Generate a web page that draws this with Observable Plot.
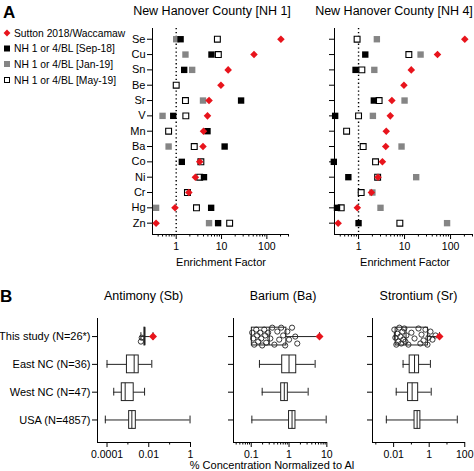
<!DOCTYPE html>
<html><head><meta charset="utf-8">
<script src="https://cdn.jsdelivr.net/npm/d3@7"></script>
<script src="https://cdn.jsdelivr.net/npm/@observablehq/plot@0.6"></script>
<style>
body{margin:0;background:#fff;}
#chart{position:relative;width:474px;height:471px;overflow:hidden;font-family:"Liberation Sans",Arial,sans-serif;}
#chart > svg{position:absolute;}
</style></head><body><div id="chart"></div>
<script>
// ---------- Panel A data (Enrichment Factor) ----------
const elements = ["Se","Cu","Sn","Be","Sr","V","Mn","Ba","Co","Ni","Cr","Hg","Zn"];
const sutton   = [204, 52, 14, 9.7, 5.3, 4.9, 4.0, 3.9, 3.3, 2.65, 1.9, 0.94, 0.36];
const nh1Sep18 = [1.25, 6.0, 1.5, null, 27, 0.86, 4.9, 11.7, 1.33, 4.1, null, 5.9, 8.4];
const nh1Jan19 = [1.0, 1.6, 2.25, null, 3.9, 0.5, null, 0.68, null, null, null, 0.36, 5.3];
const nh1May19 = [8.1, 8.5, null, 1.0, 1.6, 1.63, 0.68, 2.5, 3.5, 3.3, 1.77, 2.8, 15.1];
const nh4Sep18 = [null, 1.4, 0.86, null, 2.15, 0.31, null, null, 0.29, 0.6, null, 0.34, 1.0];
const nh4Jan19 = [2.5, 22.3, 2.2, null, 10, 2.05, null, 8.6, null, 17.9, 2.0, 3.0, 84];
const nh4May19 = [0.93, 12.4, 1.18, null, 2.8, 1.0, 0.55, 1.26, 2.34, 2.6, 1.14, 0.42, 7.9];
const legendLabels = ["Sutton 2018/Waccamaw", "NH 1 or 4/BL [Sep-18]", "NH 1 or 4/BL [Jan-19]", "NH 1 or 4/BL [May-19]"];
const topTicks = [1, 10, 100];
const topMinor = [0.4,0.5,0.6,0.7,0.8,0.9,2,3,4,5,6,7,8,9,20,30,40,50,60,70,80,90,200,300];

// ---------- Panel B data (% concentration normalized to Al) ----------
const groups = ["This study (N=26*)", "East NC (N=36)", "West NC (N=47)", "USA (N=4857)"];
// [low whisker, Q1, median, Q3, high whisker]
const sbBox = [[0.0042, 0.0062, 0.0065, 0.0068, 0.016],[0.0001, 0.0009, 0.002, 0.0033, 0.014],[0.00021, 0.00051, 0.00074, 0.0019, 0.0063],[0.000083, 0.00115, 0.00155, 0.0024, 0.95]];
const baBox = [[0.1, 0.104, 0.3, 0.85, 6.4],[0.165, 0.66, 1.0, 1.55, 4.9],[0.195, 0.62, 0.75, 0.93, 3.2],[0.104, 1.0, 1.2, 1.48, 9.6]];
const srBox = [[0.011, 0.013, 0.05, 0.85, 3.8],[0.034, 0.08, 0.15, 0.27, 1.17],[0.014, 0.065, 0.11, 0.24, 1.3],[0.0039, 0.15, 0.21, 0.32, 38]];
const sbSutton = 0.016, baSutton = 6.4, srSutton = 3.8;
const sbStudy = [0.0042, 0.0046];
const sbJitter = [0.18, 0.04];
const baStudy = [0.106,0.113,0.12,0.136,0.144,0.153,0.173,0.184,0.195,0.221,0.235,0.249,0.28,0.32,0.36,0.41,0.49,0.55,0.62,0.70,0.79,0.90,1.0,1.2,1.46,1.65];
const baJitter = [-0.14,0.07,0.29,-0.25,-0.04,0.18,-0.14,0.07,0.32,-0.25,-0.04,0.22,-0.14,0.07,-0.32,0.29,-0.18,0.11,-0.32,-0.04,0.32,-0.18,0.11,-0.32,0,0.25];
const srStudy = [0.011,0.0125,0.0142,0.0162,0.0184,0.021,0.024,0.027,0.031,0.035,0.040,0.046,0.052,0.068,0.10,0.15,0.25,0.32,0.37,0.48,0.62,0.80,0.91,1.18,1.53,2.27];
const srJitter = [-0.25,0.04,0.29,-0.1,0.18,-0.32,0.0,0.25,-0.18,0.11,-0.29,0.18,-0.04,0.29,-0.14,0.07,-0.29,0.25,-0.07,0.14,-0.25,0.29,0.04,-0.18,0.11,-0.04];

const FONT = '"Liberation Sans", Arial, sans-serif';
const RED = "#e8141c", GRAY = "#858585", INK = "#222";
const chart = document.getElementById("chart");
function place(svg, left, top) { svg.style.left = left + "px"; svg.style.top = top + "px"; chart.appendChild(svg); }
const baseStyle = {fontFamily: FONT, fontSize: "11px", overflow: "visible", background: "none", color: "#000"};

function series(vals) { const out = []; vals.forEach((v, i) => { if (v != null) out.push({i, v}); }); return out; }

function topPanel(sep, jan, may, o) {
  const yMax = elements.length - 0.26;
  return Plot.plot({
    width: o.width, height: 236, marginLeft: o.ml, marginRight: o.mr, marginTop: 8, marginBottom: 22,
    style: baseStyle,
    x: {type: "log", domain: [0.3, 300]},
    y: {domain: [-0.7, yMax], reverse: true},
    marks: [
      Plot.ruleX([1], {strokeDasharray: "1.3,2.6", strokeWidth: 1.4, stroke: "#000"}),
      Plot.ruleX([0.3], {stroke: "#000", strokeWidth: 1}),
      Plot.ruleY([yMax], {stroke: "#000", strokeWidth: 1}),
      Plot.axisY({ticks: d3.range(elements.length), tickFormat: o.showY ? (i => elements[i]) : (() => ""), tickSize: 5, tickPadding: 2, label: null, fontSize: 11}),
      Plot.axisX({ticks: topTicks, tickFormat: d => String(d), tickSize: 5, tickPadding: 3, label: null, fontSize: 10.5}),
      Plot.axisX({ticks: topMinor, tickFormat: () => "", tickSize: 2.5, label: null}),
      Plot.dot(series(jan), {x: "v", y: "i", symbol: "square", r: 3.6, fill: GRAY}),
      Plot.dot(series(may), {x: "v", y: "i", symbol: "square", r: 3.3, fill: "white", stroke: "#000", strokeWidth: 1.1}),
      Plot.dot(series(sep), {x: "v", y: "i", symbol: "square", r: 3.6, fill: "#000"}),
      Plot.dot(series(sutton), {x: "v", y: "i", symbol: "diamond2", r: 3.4, fill: RED})
    ]
  });
}

function boxPanel(box, study, jitter, red, o) {
  const rows = box.map((b, i) => ({i, low: b[0], q1: b[1], med: b[2], q3: b[3], high: b[4]}));
  const pts = study.map((v, k) => ({v, j: jitter[k]}));
  const yMax = groups.length - 0.19;
  return Plot.plot({
    width: o.width, height: 160, marginLeft: o.ml, marginRight: o.mr, marginTop: 18, marginBottom: 18,
    style: baseStyle,
    x: {type: "log", domain: o.domain},
    y: {domain: [-0.65, yMax], reverse: true},
    marks: [
      Plot.ruleX([o.domain[0]], {stroke: "#000"}),
      Plot.ruleY([yMax], {stroke: "#000"}),
      Plot.axisY({ticks: d3.range(groups.length), tickFormat: o.showY ? (i => groups[i]) : (() => ""), tickSize: 5, tickPadding: 2, label: null, fontSize: 11}),
      Plot.axisX({ticks: o.ticks, tickFormat: d => String(d), tickSize: 5, tickPadding: 3, label: null, fontSize: 10.5}),
      Plot.axisX({ticks: o.minor, tickFormat: () => "", tickSize: 2.5, label: null}),
      Plot.ruleY(rows, {y: "i", x1: "low", x2: "high", stroke: INK, strokeWidth: 1}),
      Plot.ruleX(rows, {x: "low", y1: d => d.i - 0.14, y2: d => d.i + 0.14, stroke: INK}),
      Plot.ruleX(rows, {x: "high", y1: d => d.i - 0.14, y2: d => d.i + 0.14, stroke: INK}),
      Plot.rect(rows, {x1: "q1", x2: "q3", y1: d => d.i - 0.32, y2: d => d.i + 0.32, fill: "white", stroke: INK, strokeWidth: 1}),
      Plot.ruleX(rows, {x: "med", y1: d => d.i - 0.32, y2: d => d.i + 0.32, stroke: INK}),
      Plot.dot(pts, {x: "v", y: "j", r: 2.6, stroke: INK, fill: "none", strokeWidth: 0.9}),
      Plot.dot([red], {x: d => d, y: () => 0, symbol: "diamond2", r: 3.6, fill: RED})
    ]
  });
}

place(topPanel(nh1Sep18, nh1Jan19, nh1May19, {width: 185, ml: 42, mr: 7, showY: true}), 110, 20);
place(topPanel(nh4Sep18, nh4Jan19, nh4May19, {width: 174, ml: 34, mr: 2, showY: false}), 300, 20);

place(boxPanel(sbBox, sbStudy, sbJitter, sbSutton, {width: 200, ml: 97, mr: 10, domain: [3.5e-5, 1], ticks: [0.0001, 0.01, 1], minor: [0.001, 0.1], showY: true}), 0, 300);
place(boxPanel(baBox, baStudy, baJitter, baSutton, {width: 140, ml: 33, mr: 13, domain: [0.034, 10.4], ticks: [0.1, 1, 10], minor: [0.04,0.05,0.06,0.07,0.08,0.09,0.2,0.3,0.4,0.5,0.6,0.7,0.8,0.9,2,3,4,5,6,7,8,9], showY: false}), 200, 300);
place(boxPanel(srBox, srStudy, srJitter, srSutton, {width: 134, ml: 32, mr: 9, domain: [0.00065, 110], ticks: [0.01, 1, 100], minor: [0.001, 0.1, 10], showY: false}), 340, 300);

// ---------- Text overlay: panel letters, titles, legend, axis labels ----------
const ov = d3.create("svg").attr("width", 474).attr("height", 471)
  .style("left", "0px").style("top", "0px").style("pointer-events", "none")
  .attr("font-family", FONT).attr("fill", "#000");
function txt(s, x, y, size, anchor, weight) {
  ov.append("text").attr("x", x).attr("y", y).attr("font-size", size).attr("text-anchor", anchor || "start")
    .attr("font-weight", weight || "normal").text(s);
}
txt("A", 3, 18, 17, "start", "bold");
txt("B", 0, 302, 17, "start", "bold");
txt("New Hanover County [NH 1]", 212, 15, 12.5, "middle");
txt("New Hanover County [NH 4]", 394, 15, 12.5, "middle");
txt("Enrichment Factor", 221, 266, 11, "middle");
txt("Enrichment Factor", 405, 266, 11, "middle");
txt("Antimony (Sb)", 143.5, 300, 12.5, "middle");
txt("Barium (Ba)", 283, 300, 12.5, "middle");
txt("Strontium (Sr)", 418.5, 300, 12.5, "middle");
txt("% Concentration Normalized to Al", 272, 469, 11, "middle");
const legY = [33, 48.5, 64, 80];
ov.append("path").attr("d", d3.symbol(d3.symbolDiamond2, 30)()).attr("transform", `translate(7,${legY[0]})`).attr("fill", RED);
ov.append("rect").attr("x", 4).attr("y", legY[1] - 3).attr("width", 6).attr("height", 6).attr("fill", "#000");
ov.append("rect").attr("x", 4).attr("y", legY[2] - 3).attr("width", 6).attr("height", 6).attr("fill", GRAY);
ov.append("rect").attr("x", 4.5).attr("y", legY[3] - 2.5).attr("width", 5).attr("height", 5).attr("fill", "white").attr("stroke", "#000");
legendLabels.forEach((s, k) => txt(s, 14, legY[k] + 3.6, 10.3, "start"));
chart.appendChild(ov.node());
</script></body></html>
